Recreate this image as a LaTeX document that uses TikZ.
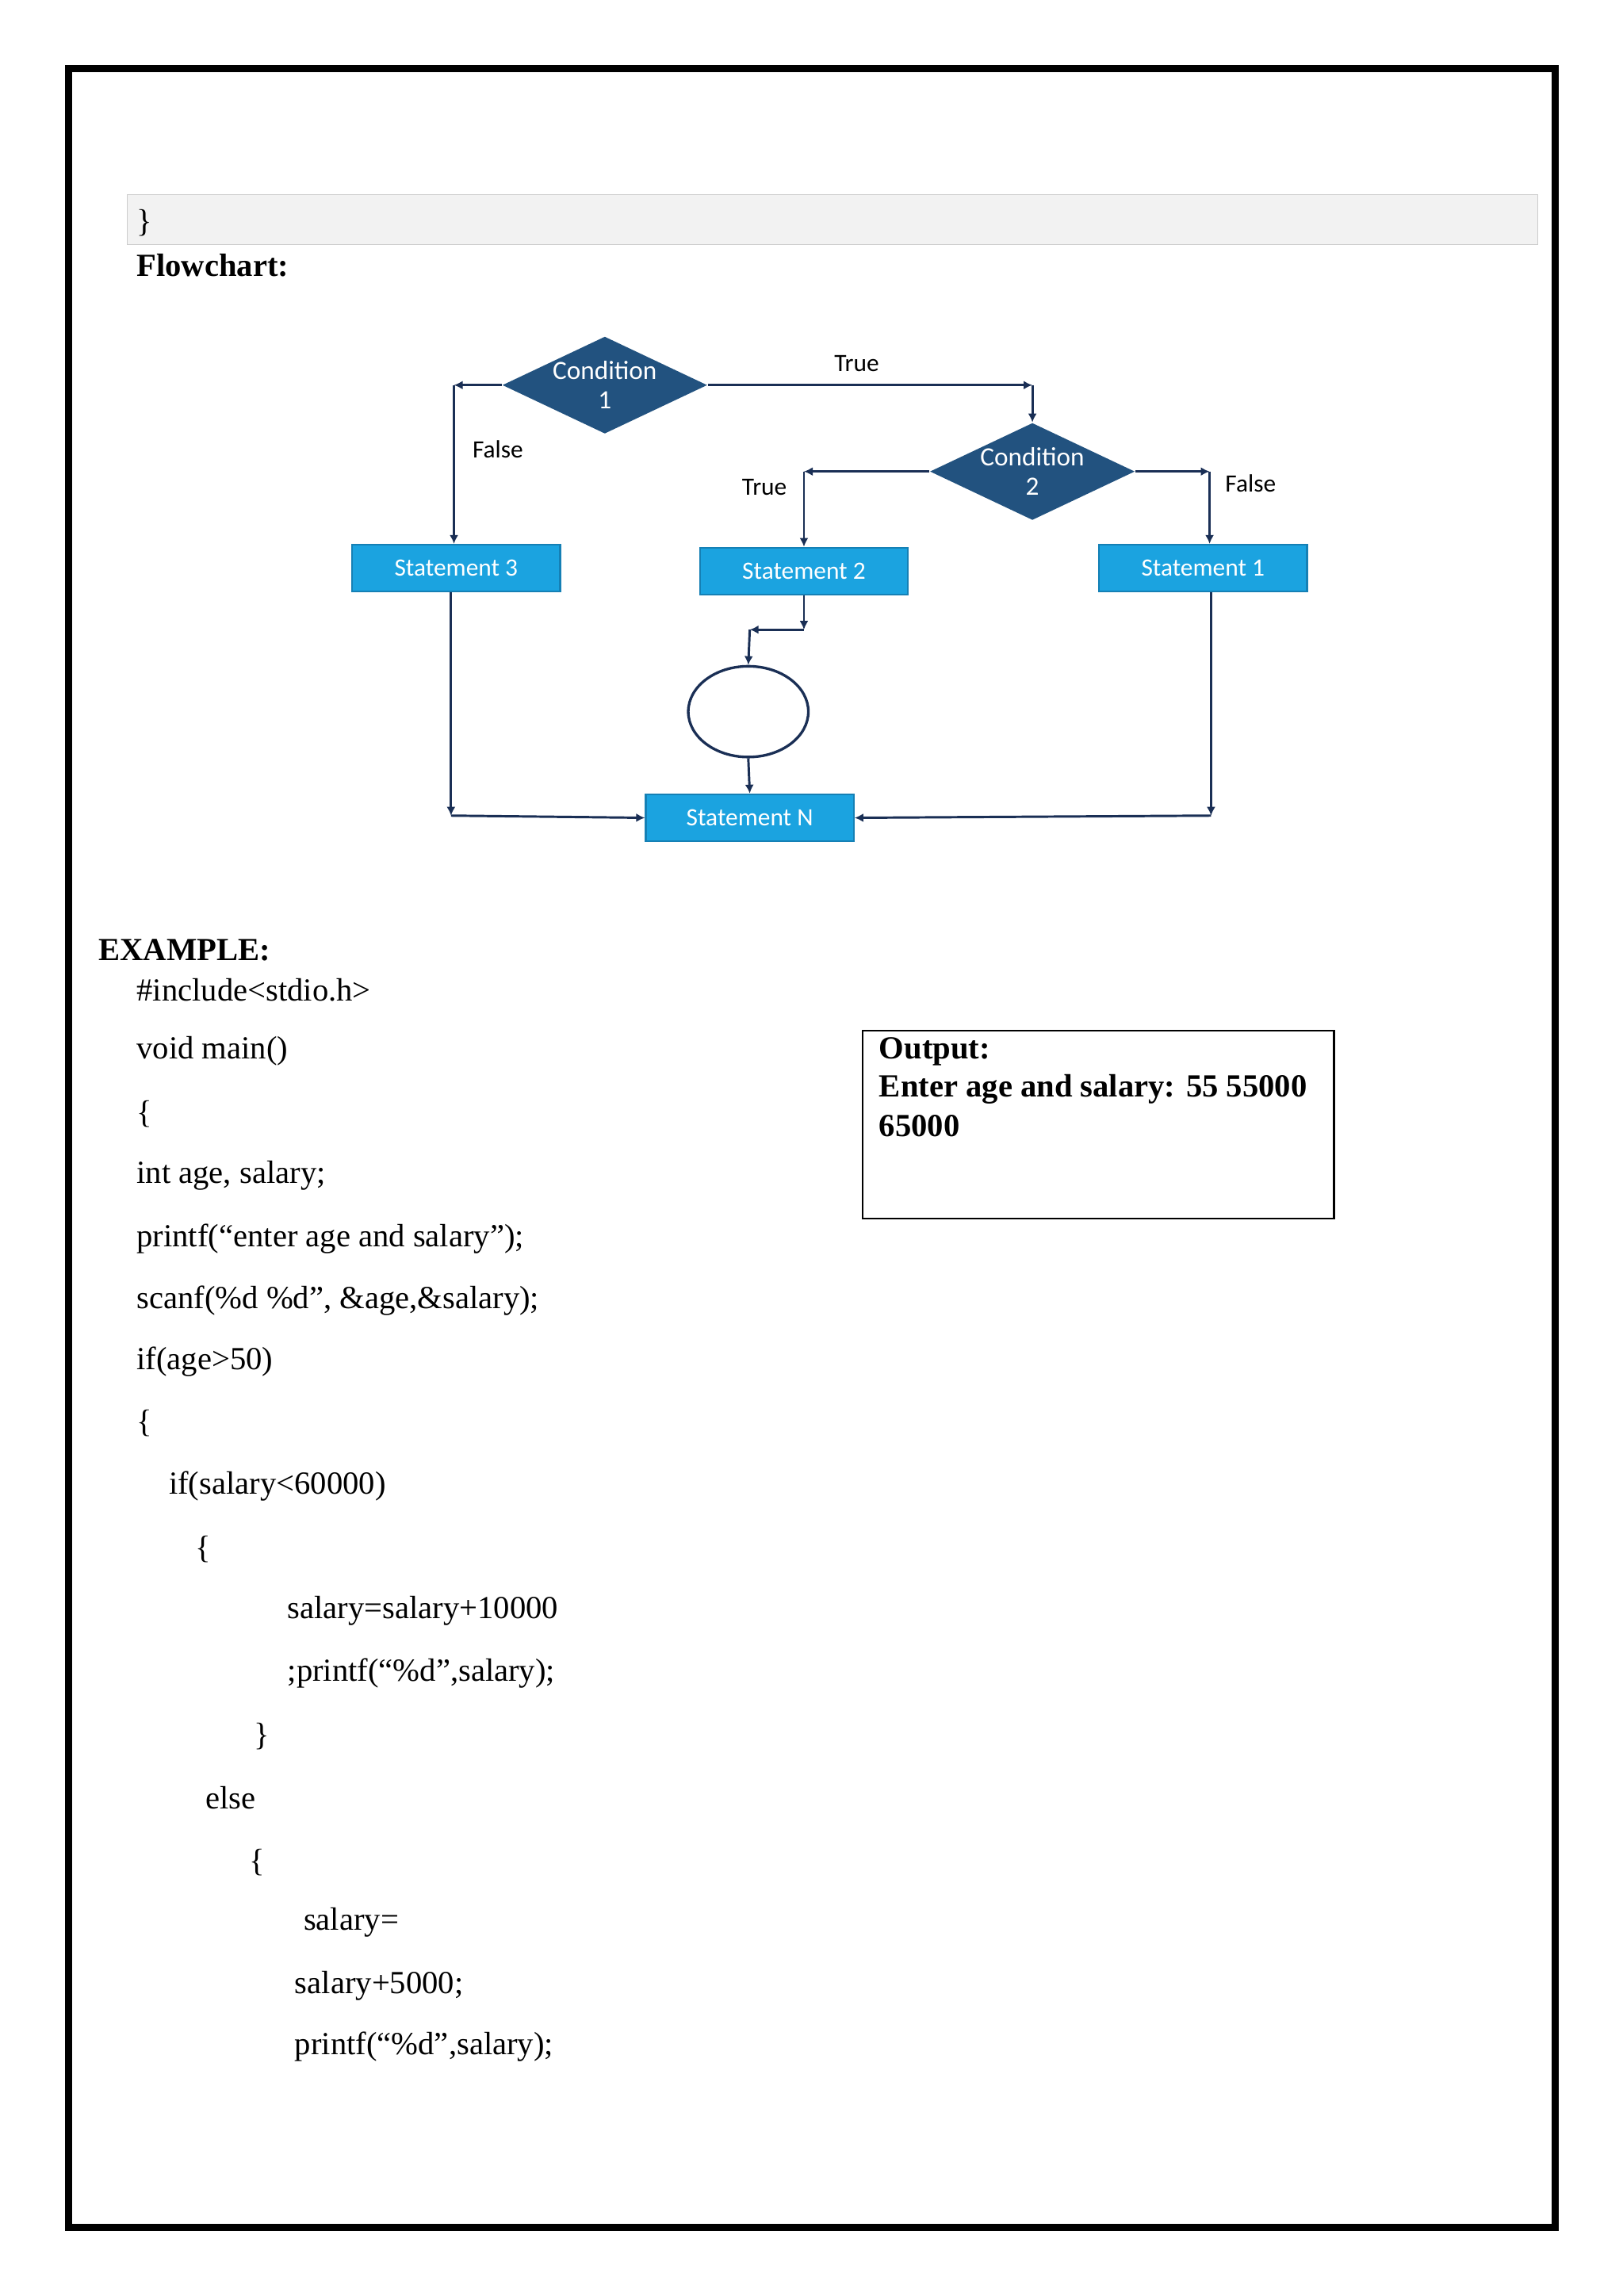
\documentclass[tikz,border=0pt]{standalone}
\usepackage{fontspec}
\setmainfont{Liberation Serif}
\newfontfamily\fcsans{Carlito}
\usetikzlibrary{shapes.geometric,arrows.meta}
\definecolor{dblue}{HTML}{22527F}
\definecolor{lblue}{HTML}{1BA3E0}
\definecolor{lbord}{HTML}{1580B5}
\definecolor{ln}{HTML}{1A2F55}
\begin{document}
\begin{tikzpicture}[x=0.5pt,y=-0.5pt,
  cond/.style={diamond,fill=dblue,minimum width=70pt,minimum height=33pt,inner sep=0pt,aspect=2.1,text=white,font=\fcsans\fontsize{9}{10}\selectfont,align=center},
  stmt/.style={rectangle,fill=lblue,draw=lbord,line width=0.6pt,minimum width=71pt,minimum height=16pt,inner sep=0pt,text=white,font=\fcsans\fontsize{8.5}{10}\selectfont},
  lbl/.style={font=\fcsans\fontsize{8.5}{10}\selectfont,inner sep=0pt},
  arr/.style={draw=ln,line width=0.8pt,-{Latex[length=3pt,width=3pt]}},
  lin/.style={draw=ln,line width=0.8pt},
  code/.style={anchor=west,inner sep=0pt,font=\fontsize{11}{13}\selectfont},
  bcode/.style={anchor=west,inner sep=0pt,font=\bfseries\fontsize{11}{13}\selectfont}]
\useasboundingbox (0,0) rectangle (1108,1568);
\fill[white] (0,0) rectangle (1108,1568);
\draw[line width=2.5pt] (47,47) rectangle (1062,1521);
\draw[fill=black!5,draw=black!20,line width=0.4pt] (87,133) rectangle (1050,167);
\node[code] (brace) at (93,152) {\}};
\node[bcode] (fc) at (93,181) {Flowchart:};
% flowchart
\node[cond] (c1) at (413,263) {Condition\\1};
\node[cond] (c2) at (705,322) {Condition\\2};
\node[stmt] (s3) at (311.5,388) {Statement 3};
\node[stmt] (s2) at (549,390) {Statement 2};
\node[stmt] (s1) at (821.5,388) {Statement 1};
\node[stmt] (sn) at (512,558.5) {Statement N};
\node[ellipse,draw=ln,line width=0.9pt,minimum width=41pt,minimum height=31pt,inner sep=0pt] (circ) at (511,486) {};
\coordinate (a1) at (310,263);
\coordinate (a2) at (705,263);
\coordinate (b1) at (549,322);
\coordinate (b2) at (826,322);
\coordinate (d1) at (549,430);
\coordinate (d2) at (512,430);
\coordinate (e1) at (308,557);
\coordinate (e2) at (827,557);
\draw[arr] (c1.west) -- (a1);
\draw[arr] (a1) -- (a1 |- s3.north);
\draw[arr] (c1.east) -- (a2);
\draw[arr] (a2) -- (c2.north);
\draw[arr] (c2.west) -- (b1);
\draw[arr] (b1) -- (s2.north);
\draw[arr] (c2.east) -- (b2);
\draw[arr] (b2) -- (b2 |- s1.north);
\draw[arr] (s2.south) -- (d1);
\draw[arr] (d1) -- (d2);
\draw[arr] (d2) -- (circ.north);
\draw[arr] (circ.south) -- (sn.north);
\draw[arr] (e1 |- s3.south) -- (e1);
\draw[arr] (e1) -- (sn.west);
\draw[arr] (e2 |- s1.south) -- (e2);
\draw[arr] (e2) -- (sn.east);
\node[lbl] (t1) at (585,248) {True};
\node[lbl] (f1) at (340,307) {False};
\node[lbl] (t2) at (522,333) {True};
\node[lbl] (f2) at (854,330) {False};
% example
\node[bcode] (ex) at (67,649) {EXAMPLE:};
\node[code] (l1) at (93,676) {\#include<stdio.h>};
\node[code] (l2) at (93,718) {void main()};
\node[code] (l3) at (93,761) {\{};
\node[code] (l4) at (93,803) {int age, salary;};
\node[code] (l5) at (93,846) {printf(“enter age and salary”);};
\node[code] (l6) at (93,888) {scanf(\%d \%d”, \&age,\&salary);};
\node[code] (l7) at (93,930) {if(age>50)};
\node[code] (l8) at (93,972) {\{};
\node[code] (l9) at (115,1015) {if(salary<60000)};
\node[code] (l10) at (133,1058) {\{};
\node[code] (l11) at (196,1100) {salary=salary+10000};
\node[code] (l12) at (196,1143) {;printf(“\%d”,salary);};
\node[code] (l13) at (173,1186) {\}};
\node[code] (l14) at (140,1228) {else};
\node[code] (l15) at (170,1272) {\{};
\node[code] (l16) at (207,1313) {salary=};
\node[code] (l17) at (201,1356) {salary+5000;};
\node[code] (l18) at (201,1398) {printf(“\%d”,salary);};
% output
\draw[line width=0.6pt] (589,704) rectangle (911,832);
\node[bcode] (o1) at (600,718) {Output:};
\node[bcode] (o2) at (600,744) {Enter age and salary: 55 55000};
\node[bcode] (o3) at (600,769) {65000};
\end{tikzpicture}
\end{document}
